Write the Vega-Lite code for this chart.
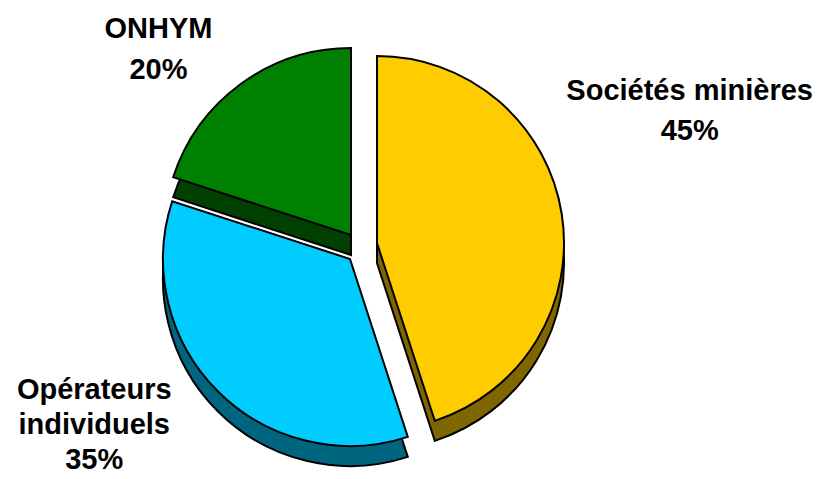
{
  "$schema": "https://vega.github.io/schema/vega-lite/v6.json",
  "width": 702,
  "height": 470,
  "autosize": {"type": "none"},
  "padding": {"left": 0, "top": 0, "right": 124, "bottom": 9},
  "background": "white",
  "config": {"view": {"stroke": null}},
  "data": {"values": [
    {"cat": "Sociétés minières", "value": 45, "order": 1, "label": "Sociétés minières\n45%"},
    {"cat": "Opérateurs individuels", "value": 35, "order": 2, "label": "Opérateurs\nindividuels\n35%"},
    {"cat": "ONHYM", "value": 20, "order": 3, "label": "ONHYM\n20%"}
  ]},
  "transform": [
    {"stack": "value", "groupby": [], "sort": [{"field": "order", "order": "ascending"}], "as": ["t0", "t1"]}
  ],
  "layer": [
    {
      "transform": [{"filter": "datum.cat === 'ONHYM'"}],
      "mark": {"type": "arc", "radius": 187, "xOffset": 0, "yOffset": 20, "fill": "#004000", "stroke": "black", "strokeWidth": 2},
      "encoding": {"theta": {"field": "t0", "type": "quantitative", "scale": {"domain": [0, 100]}}, "theta2": {"field": "t1"}}
    },
    {
      "transform": [{"filter": "datum.cat === 'Opérateurs individuels'"}],
      "mark": {"type": "arc", "radius": 187, "xOffset": -1, "yOffset": 44, "fill": "#006680", "stroke": "black", "strokeWidth": 2},
      "encoding": {"theta": {"field": "t0", "type": "quantitative", "scale": {"domain": [0, 100]}}, "theta2": {"field": "t1"}}
    },
    {
      "transform": [{"filter": "datum.cat === 'Sociétés minières'"}],
      "mark": {"type": "arc", "radius": 187, "xOffset": 26, "yOffset": 28, "fill": "#806600", "stroke": "black", "strokeWidth": 2},
      "encoding": {"theta": {"field": "t0", "type": "quantitative", "scale": {"domain": [0, 100]}}, "theta2": {"field": "t1"}}
    },
    {
      "transform": [{"filter": "datum.cat === 'ONHYM'"}],
      "mark": {"type": "arc", "radius": 187, "xOffset": 0, "yOffset": 0, "fill": "#008000", "stroke": "black", "strokeWidth": 2},
      "encoding": {"theta": {"field": "t0", "type": "quantitative", "scale": {"domain": [0, 100]}}, "theta2": {"field": "t1"}}
    },
    {
      "transform": [{"filter": "datum.cat === 'Opérateurs individuels'"}],
      "mark": {"type": "arc", "radius": 187, "xOffset": -1, "yOffset": 24, "fill": "#00CCFF", "stroke": "black", "strokeWidth": 2},
      "encoding": {"theta": {"field": "t0", "type": "quantitative", "scale": {"domain": [0, 100]}}, "theta2": {"field": "t1"}}
    },
    {
      "transform": [{"filter": "datum.cat === 'Sociétés minières'"}],
      "mark": {"type": "arc", "radius": 187, "xOffset": 26, "yOffset": 8, "fill": "#FFCC00", "stroke": "black", "strokeWidth": 2},
      "encoding": {"theta": {"field": "t0", "type": "quantitative", "scale": {"domain": [0, 100]}}, "theta2": {"field": "t1"}}
    },
    {
      "mark": {"type": "text", "radius": 354, "xOffset": -11, "yOffset": -89, "font": "Liberation Sans", "fontWeight": "bold", "fontSize": 29, "lineBreak": "\n", "lineHeight": 40, "align": "center", "baseline": "middle", "color": "black"},
      "encoding": {
        "theta": {"field": "value", "type": "quantitative", "stack": true, "scale": {"domain": [0, 100]}},
        "order": {"field": "order", "type": "quantitative"},
        "text": {"condition": {"test": "datum.cat === 'Sociétés minières'", "field": "label"}, "value": ""}
      }
    },
    {
      "mark": {"type": "text", "radius": 263, "xOffset": -38, "yOffset": 7, "font": "Liberation Sans", "fontWeight": "bold", "fontSize": 29, "lineBreak": "\n", "lineHeight": 41, "align": "center", "baseline": "middle", "color": "black"},
      "encoding": {
        "theta": {"field": "value", "type": "quantitative", "stack": true, "scale": {"domain": [0, 100]}},
        "order": {"field": "order", "type": "quantitative"},
        "text": {"condition": {"test": "datum.cat === 'ONHYM'", "field": "label"}, "value": ""}
      }
    },
    {
      "mark": {"type": "text", "radius": 315, "xOffset": -34, "yOffset": -68, "font": "Liberation Sans", "fontWeight": "bold", "fontSize": 29, "lineBreak": "\n", "lineHeight": 35, "align": "center", "baseline": "middle", "color": "black"},
      "encoding": {
        "theta": {"field": "value", "type": "quantitative", "stack": true, "scale": {"domain": [0, 100]}},
        "order": {"field": "order", "type": "quantitative"},
        "text": {"condition": {"test": "datum.cat === 'Opérateurs individuels'", "field": "label"}, "value": ""}
      }
    }
  ]
}
